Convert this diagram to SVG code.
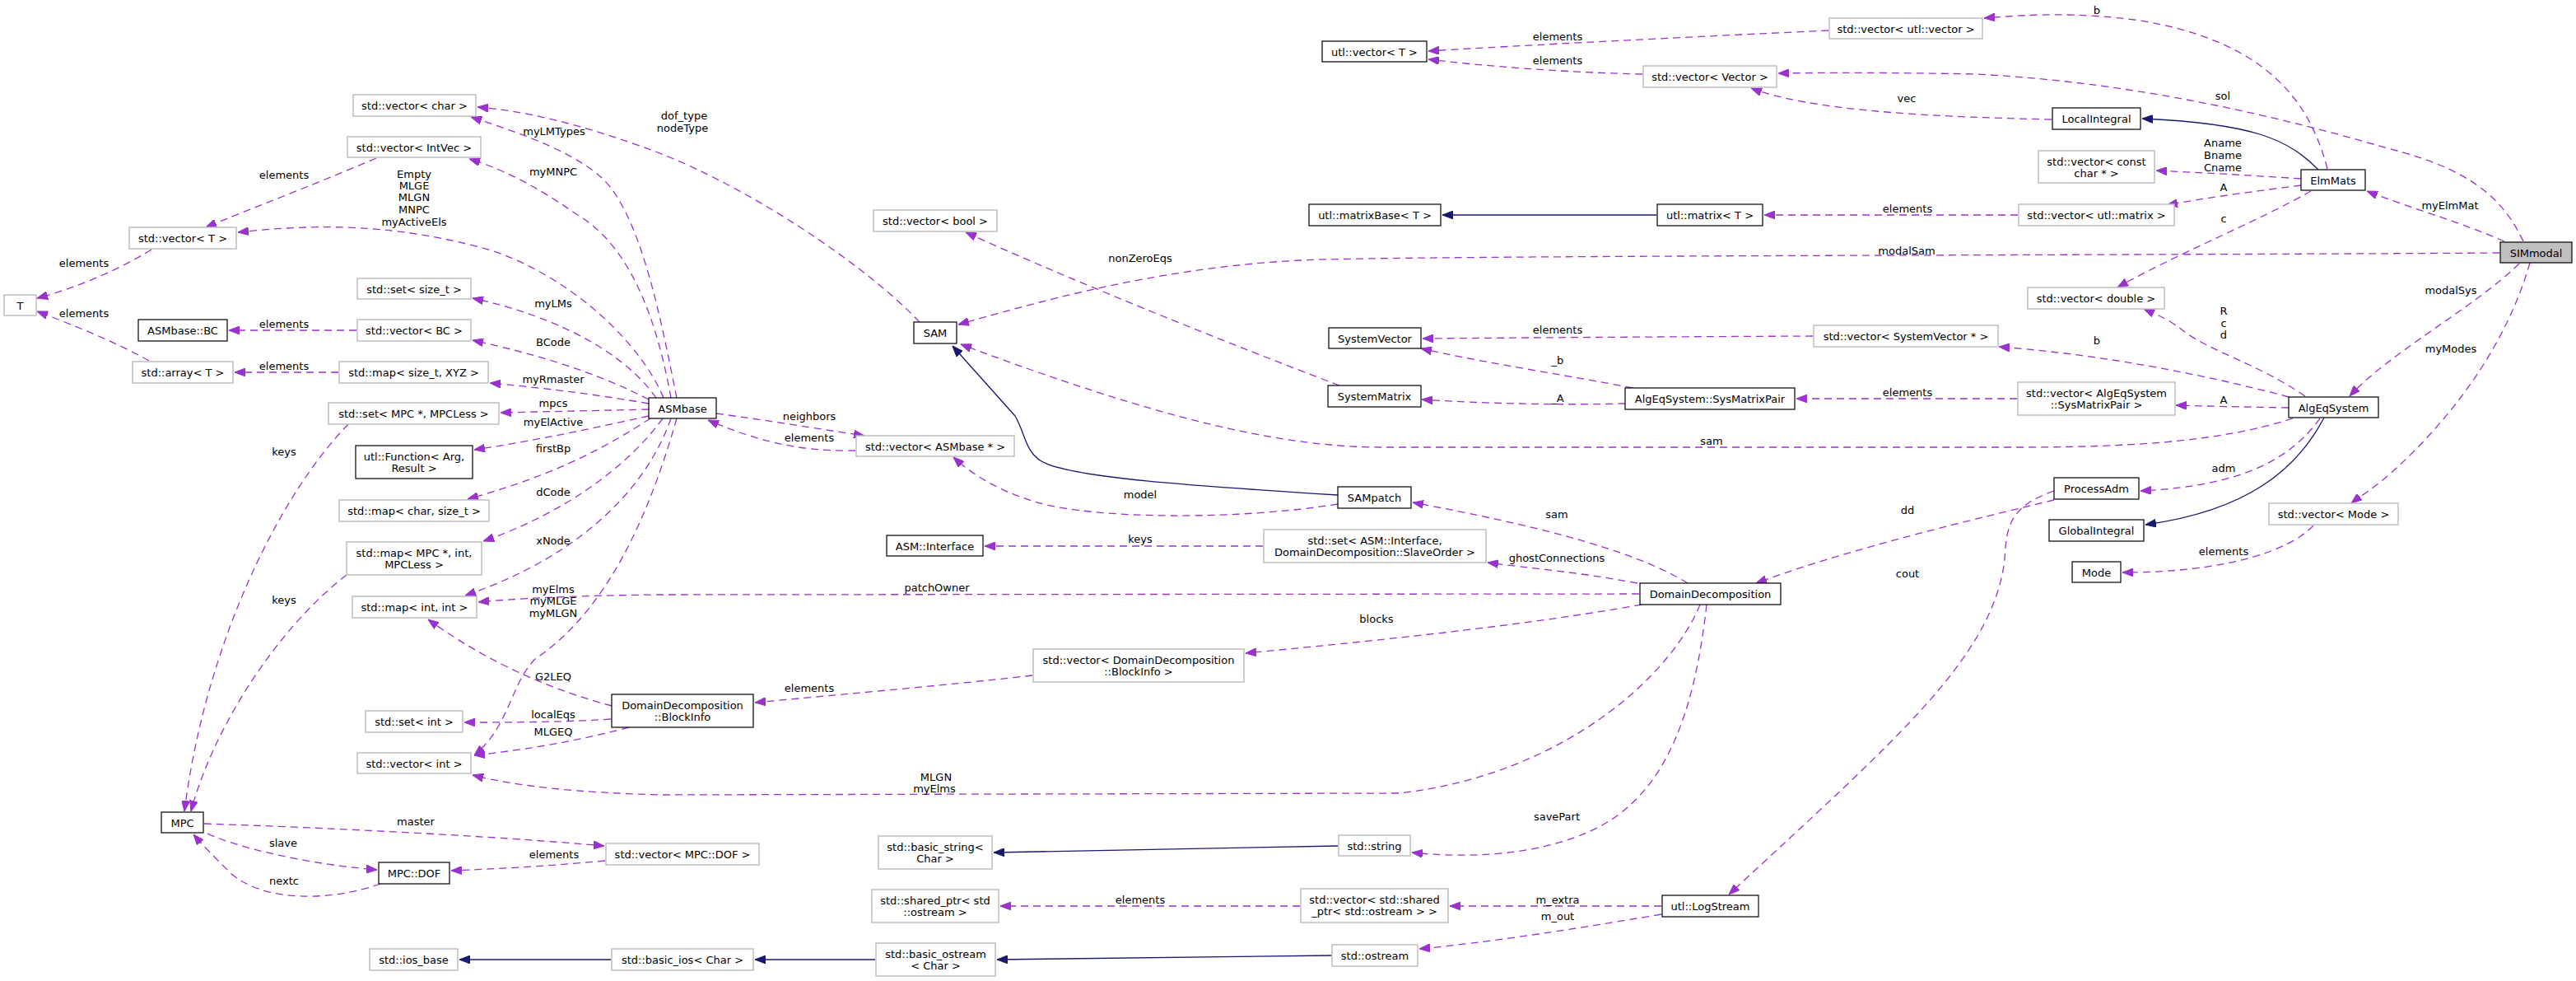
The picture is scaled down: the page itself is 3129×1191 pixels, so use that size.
<svg xmlns="http://www.w3.org/2000/svg" width="3129" height="1191" viewBox="0 0 3129 1191">
<style>
text{font-family:"DejaVu Sans","Liberation Sans",sans-serif;font-size:13px;fill:#000;text-anchor:middle}
.g rect{fill:#fff;stroke:#bfbfbf;stroke-width:1.5}
.b rect{fill:#fff;stroke:#000;stroke-width:1.2}
.c rect{fill:#bfbfbf;stroke:#000;stroke-width:1.2}
.e{fill:none;stroke:#9a32cd;stroke-width:1.3;stroke-dasharray:9 6;marker-end:url(#ap)}
.i{fill:none;stroke:#191970;stroke-width:1.3;marker-end:url(#an)}
</style>
<defs>
<marker id="ap" viewBox="0 0 13 10" refX="13" refY="5" markerWidth="13" markerHeight="10" markerUnits="userSpaceOnUse" orient="auto"><path d="M0,0 L13,5 L0,10 z" fill="#9a32cd" stroke="#9a32cd"/></marker>
<marker id="an" viewBox="0 0 13 10" refX="13" refY="5" markerWidth="13" markerHeight="10" markerUnits="userSpaceOnUse" orient="auto"><path d="M0,0 L13,5 L0,10 z" fill="#191970" stroke="#191970"/></marker>
</defs>
<rect width="3129" height="1191" fill="#fff"/>
<g id="edges">
<path class="e" d="M2221,37 C2050,45 1850,55 1735,62"/>
<path class="e" d="M1995,90 C1900,88 1800,80 1735,72"/>
<path class="e" d="M2827,205 C2805,120 2750,50 2600,25 C2520,14 2460,18 2410,22"/>
<path class="e" d="M3065,293 C3040,240 3000,205 2900,180 C2780,145 2600,100 2400,90 C2300,88 2220,88 2160,89"/>
<path class="e" d="M2492,145 C2350,142 2200,135 2127,107"/>
<path class="i" d="M2816,206 C2780,170 2740,150 2602,144"/>
<path class="e" d="M2795,217 C2720,212 2680,210 2619,207"/>
<path class="e" d="M2795,225 C2740,232 2680,240 2632,249"/>
<path class="e" d="M2807,232 C2740,270 2640,310 2572,349"/>
<path class="e" d="M3042,293 C2990,270 2920,250 2875,232"/>
<path class="e" d="M3036,307 C2600,310 1700,310 1580,316 C1400,325 1250,370 1164,394"/>
<path class="e" d="M2451,261 L2143,261"/>
<path class="i" d="M2012,261 L1752,261"/>
<path class="e" d="M2202,408 C2000,409 1850,410 1728,411"/>
<path class="e" d="M3060,320 C3010,370 2900,430 2854,481"/>
<path class="e" d="M3073,319 C3050,400 3000,480 2930,550 C2890,590 2870,600 2856,611"/>
<path class="e" d="M2800,481 C2740,440 2680,425 2650,400 C2630,385 2615,380 2604,375"/>
<path class="e" d="M2780,482 C2680,455 2550,430 2428,421"/>
<path class="e" d="M2780,495 C2720,494 2680,493 2643,492"/>
<path class="e" d="M2450,484 L2182,484"/>
<path class="e" d="M1983,471 C1900,455 1800,440 1726,423"/>
<path class="e" d="M1974,490 C1900,492 1800,490 1727,485"/>
<path class="e" d="M2785,508 C2700,535 2600,543 2450,543 L1680,543 C1550,543 1400,505 1167,418"/>
<path class="e" d="M1627,468 C1500,420 1300,340 1173,282"/>
<path class="e" d="M1117,391 C1050,320 900,220 780,178 C700,150 640,135 580,130"/>
<path class="e" d="M822,483 C805,400 780,260 730,215 C690,180 620,158 572,142"/>
<path class="e" d="M815,483 C800,400 770,300 700,260 C650,225 610,205 570,193"/>
<path class="e" d="M806,483 C780,420 700,340 600,305 C480,270 380,272 289,282"/>
<path class="e" d="M797,483 C760,430 680,385 574,362"/>
<path class="e" d="M788,485 C720,450 650,430 574,413"/>
<path class="e" d="M788,490 C720,478 650,470 595,465"/>
<path class="e" d="M788,497 L608,501"/>
<path class="e" d="M788,505 C720,520 650,535 576,546"/>
<path class="e" d="M790,508 C740,540 680,575 568,606"/>
<path class="e" d="M805,508 C760,570 680,625 587,657"/>
<path class="e" d="M815,508 C790,580 720,670 565,723"/>
<path class="e" d="M822,508 C790,620 740,740 650,800 C620,830 620,880 576,917"/>
<path class="e" d="M423,515 C340,600 250,780 224,985"/>
<path class="e" d="M421,698 C340,760 260,880 232,985"/>
<path class="e" d="M184,303 C140,330 90,350 45,362"/>
<path class="e" d="M181,438 C140,415 90,395 45,378"/>
<path class="e" d="M457,192 C380,225 300,255 250,276"/>
<path class="e" d="M433,401 L278,401"/>
<path class="e" d="M411,452 L285,452"/>
<path class="e" d="M870,502 C930,510 990,520 1050,529"/>
<path class="e" d="M1039,547 C980,548 930,540 860,510"/>
<path class="e" d="M1625,612 C1500,632 1330,630 1260,610 C1210,595 1180,575 1158,555"/>
<path class="i" d="M1625,601 C1450,590 1300,580 1265,560 C1245,548 1245,525 1233,505 L1157,420"/>
<path class="e" d="M2050,708 C1980,665 1850,635 1716,610"/>
<path class="e" d="M1989,708 C1920,695 1860,690 1807,683"/>
<path class="e" d="M1534,663 L1196,663"/>
<path class="e" d="M1991,721 L800,722 C700,723 620,727 581,731"/>
<path class="e" d="M1994,734 C1850,760 1650,780 1513,793"/>
<path class="e" d="M1254,820 C1150,832 1000,845 917,853"/>
<path class="e" d="M2065,734 C2030,820 1900,940 1700,963 L800,965 C700,962 630,955 574,941"/>
<path class="e" d="M2073,734 C2060,850 2030,960 1940,1005 C1870,1040 1780,1042 1715,1035"/>
<path class="e" d="M2495,607 C2400,630 2250,665 2133,708"/>
<path class="e" d="M2495,596 C2440,615 2437,640 2435,680 C2420,800 2300,900 2100,1086"/>
<path class="e" d="M2818,508 C2780,560 2720,590 2600,596"/>
<path class="i" d="M2823,507 C2790,570 2730,620 2606,637"/>
<path class="e" d="M2810,638 C2780,670 2700,695 2578,695"/>
<path class="e" d="M2018,1100 L1761,1100"/>
<path class="e" d="M2018,1110 C1900,1130 1800,1145 1724,1152"/>
<path class="e" d="M1579,1100 L1215,1100"/>
<path class="i" d="M1625,1027 L1207,1035"/>
<path class="i" d="M1617,1160 L1211,1165"/>
<path class="i" d="M1063,1165 L917,1165"/>
<path class="i" d="M742,1165 L558,1165"/>
<path class="e" d="M248,1000 C400,1005 600,1015 734,1027"/>
<path class="e" d="M252,1012 C290,1030 380,1050 458,1056"/>
<path class="e" d="M462,1073 C400,1095 320,1095 280,1060 C260,1040 245,1025 235,1013"/>
<path class="e" d="M735,1045 C660,1052 600,1055 548,1057"/>
<path class="e" d="M742,873 C680,877 620,877 564,877"/>
<path class="e" d="M764,883 C700,900 640,910 576,917"/>
<path class="e" d="M743,857 C680,840 600,810 520,752"/>
</g>
<g id="labels">
<text x="1892" y="49">elements</text>
<text x="1892" y="78">elements</text>
<text x="2547" y="17">b</text>
<text x="2700" y="121">sol</text>
<text x="2316" y="124">vec</text>
<text x="2700" y="178">Aname</text>
<text x="2700" y="193">Bname</text>
<text x="2700" y="208">Cname</text>
<text x="2701" y="232">A</text>
<text x="2701" y="270">c</text>
<text x="2976" y="254">myElmMat</text>
<text x="2316" y="309">modalSam</text>
<text x="2317" y="258">elements</text>
<text x="1892" y="405">elements</text>
<text x="2977" y="357">modalSys</text>
<text x="2977" y="428">myModes</text>
<text x="2701" y="382">R</text>
<text x="2701" y="397">c</text>
<text x="2701" y="411">d</text>
<text x="2547" y="418">b</text>
<text x="2701" y="490">A</text>
<text x="2317" y="481">elements</text>
<text x="1892" y="442">_b</text>
<text x="1892" y="488">_A</text>
<text x="2079" y="540">sam</text>
<text x="1385" y="318">nonZeroEqs</text>
<text x="831" y="145">dof_type</text>
<text x="829" y="160">nodeType</text>
<text x="673" y="164">myLMTypes</text>
<text x="672" y="213">myMNPC</text>
<text x="503" y="216">Empty</text>
<text x="503" y="230">MLGE</text>
<text x="503" y="244">MLGN</text>
<text x="503" y="259">MNPC</text>
<text x="503" y="274">myActiveEls</text>
<text x="672" y="373">myLMs</text>
<text x="672" y="420">BCode</text>
<text x="672" y="465">myRmaster</text>
<text x="672" y="494">mpcs</text>
<text x="672" y="517">myElActive</text>
<text x="672" y="549">firstBp</text>
<text x="672" y="602">dCode</text>
<text x="672" y="661">xNode</text>
<text x="672" y="720">myElms</text>
<text x="672" y="734">myMLGE</text>
<text x="672" y="749">myMLGN</text>
<text x="345" y="553">keys</text>
<text x="345" y="733">keys</text>
<text x="102" y="324">elements</text>
<text x="102" y="385">elements</text>
<text x="345" y="217">elements</text>
<text x="345" y="398">elements</text>
<text x="345" y="449">elements</text>
<text x="983" y="510">neighbors</text>
<text x="983" y="536">elements</text>
<text x="1385" y="605">model</text>
<text x="1891" y="629">sam</text>
<text x="1891" y="682">ghostConnections</text>
<text x="1385" y="659">keys</text>
<text x="1138" y="718">patchOwner</text>
<text x="1672" y="756">blocks</text>
<text x="983" y="840">elements</text>
<text x="1137" y="948">MLGN</text>
<text x="1135" y="962">myElms</text>
<text x="1891" y="996">savePart</text>
<text x="2317" y="624">dd</text>
<text x="2317" y="701">cout</text>
<text x="2701" y="573">adm</text>
<text x="2701" y="674">elements</text>
<text x="1892" y="1097">m_extra</text>
<text x="1892" y="1117">m_out</text>
<text x="1385" y="1097">elements</text>
<text x="505" y="1002">master</text>
<text x="344" y="1028">slave</text>
<text x="345" y="1074">nextc</text>
<text x="673" y="1042">elements</text>
<text x="672" y="872">localEqs</text>
<text x="672" y="893">MLGEQ</text>
<text x="672" y="826">G2LEQ</text>
</g>
<g id="n_vec_char" class="g"><rect x="429" y="115" width="149" height="26"/><text x="503.5" y="132.5">std::vector&lt; char &gt;</text></g>
<g id="n_vec_intvec" class="g"><rect x="422" y="166" width="162" height="25"/><text x="503" y="183.5">std::vector&lt; IntVec &gt;</text></g>
<g id="n_vec_T" class="g"><rect x="157" y="276" width="130" height="26"/><text x="222" y="293.5">std::vector&lt; T &gt;</text></g>
<g id="n_T" class="g"><rect x="5" y="358" width="39" height="25"/><text x="24.5" y="375.5">T</text></g>
<g id="n_set_size_t" class="g"><rect x="434" y="338" width="138" height="25"/><text x="503" y="355.5">std::set&lt; size_t &gt;</text></g>
<g id="n_vec_BC" class="g"><rect x="434" y="388" width="138" height="26"/><text x="503" y="405.5">std::vector&lt; BC &gt;</text></g>
<g id="n_array_T" class="g"><rect x="161" y="439" width="122" height="26"/><text x="222" y="456.5">std::array&lt; T &gt;</text></g>
<g id="n_map_size_xyz" class="g"><rect x="412" y="439" width="181" height="26"/><text x="502.5" y="456.5">std::map&lt; size_t, XYZ &gt;</text></g>
<g id="n_set_mpc" class="g"><rect x="399" y="489" width="207" height="26"/><text x="502.5" y="506.5">std::set&lt; MPC *, MPCLess &gt;</text></g>
<g id="n_map_char_size" class="g"><rect x="412" y="607" width="182" height="26"/><text x="503" y="624.5">std::map&lt; char, size_t &gt;</text></g>
<g id="n_map_mpc_int" class="g"><rect x="421" y="658" width="164" height="40"/><text x="503" y="676">std::map&lt; MPC *, int,</text><text x="503" y="689.5">MPCLess &gt;</text></g>
<g id="n_map_int_int" class="g"><rect x="428" y="724" width="151" height="26"/><text x="503.5" y="741.5">std::map&lt; int, int &gt;</text></g>
<g id="n_set_int" class="g"><rect x="444" y="863" width="118" height="26"/><text x="503" y="880.5">std::set&lt; int &gt;</text></g>
<g id="n_vec_int" class="g"><rect x="434" y="914" width="138" height="25"/><text x="503" y="931.5">std::vector&lt; int &gt;</text></g>
<g id="n_vec_mpcdof" class="g"><rect x="736" y="1024" width="186" height="26"/><text x="829" y="1041.5">std::vector&lt; MPC::DOF &gt;</text></g>
<g id="n_ios_base" class="g"><rect x="449" y="1152" width="107" height="26"/><text x="502.5" y="1169.5">std::ios_base</text></g>
<g id="n_basic_ios" class="g"><rect x="743" y="1152" width="172" height="26"/><text x="829" y="1169.5">std::basic_ios&lt; Char &gt;</text></g>
<g id="n_basic_string" class="g"><rect x="1067" y="1015" width="138" height="40"/><text x="1136" y="1033">std::basic_string&lt;</text><text x="1136" y="1046.5">Char &gt;</text></g>
<g id="n_shared_ptr" class="g"><rect x="1059" y="1080" width="154" height="40"/><text x="1136" y="1098">std::shared_ptr&lt; std</text><text x="1136" y="1111.5">::ostream &gt;</text></g>
<g id="n_basic_ostream" class="g"><rect x="1064" y="1145" width="145" height="40"/><text x="1136.5" y="1163">std::basic_ostream</text><text x="1136.5" y="1176.5">&lt; Char &gt;</text></g>
<g id="n_vec_bool" class="g"><rect x="1061" y="255" width="150" height="26"/><text x="1136" y="272.5">std::vector&lt; bool &gt;</text></g>
<g id="n_vec_asmbase" class="g"><rect x="1040" y="529" width="192" height="25"/><text x="1136" y="546.5">std::vector&lt; ASMbase * &gt;</text></g>
<g id="n_set_asminterface" class="g"><rect x="1535" y="643" width="270" height="40"/><text x="1670" y="661">std::set&lt; ASM::Interface,</text><text x="1670" y="674.5">DomainDecomposition::SlaveOrder &gt;</text></g>
<g id="n_vec_blockinfo" class="g"><rect x="1255" y="788" width="256" height="40"/><text x="1383" y="806">std::vector&lt; DomainDecomposition</text><text x="1383" y="819.5">::BlockInfo &gt;</text></g>
<g id="n_vec_utlvector" class="g"><rect x="2222" y="22" width="186" height="25"/><text x="2315" y="39.5">std::vector&lt; utl::vector &gt;</text></g>
<g id="n_vec_Vector" class="g"><rect x="1996" y="80" width="162" height="26"/><text x="2077" y="97.5">std::vector&lt; Vector &gt;</text></g>
<g id="n_vec_constchar" class="g"><rect x="2476" y="183" width="141" height="39"/><text x="2546.5" y="201">std::vector&lt; const</text><text x="2546.5" y="214.5">char * &gt;</text></g>
<g id="n_vec_utlmatrix" class="g"><rect x="2452" y="248" width="189" height="26"/><text x="2546.5" y="265.5">std::vector&lt; utl::matrix &gt;</text></g>
<g id="n_vec_sysvec" class="g"><rect x="2203" y="395" width="224" height="26"/><text x="2315" y="412.5">std::vector&lt; SystemVector * &gt;</text></g>
<g id="n_vec_double" class="g"><rect x="2463" y="349" width="166" height="26"/><text x="2546" y="366.5">std::vector&lt; double &gt;</text></g>
<g id="n_vec_sysmatpair" class="g"><rect x="2451" y="464" width="191" height="40"/><text x="2546.5" y="482">std::vector&lt; AlgEqSystem</text><text x="2546.5" y="495.5">::SysMatrixPair &gt;</text></g>
<g id="n_vec_mode" class="g"><rect x="2756" y="611" width="157" height="26"/><text x="2834.5" y="628.5">std::vector&lt; Mode &gt;</text></g>
<g id="n_std_string" class="g"><rect x="1626" y="1014" width="87" height="25"/><text x="1669.5" y="1031.5">std::string</text></g>
<g id="n_vec_sharedptr" class="g"><rect x="1580" y="1079" width="179" height="41"/><text x="1669.5" y="1097">std::vector&lt; std::shared</text><text x="1669.5" y="1110.5">_ptr&lt; std::ostream &gt; &gt;</text></g>
<g id="n_std_ostream" class="g"><rect x="1618" y="1147" width="104" height="26"/><text x="1670" y="1164.5">std::ostream</text></g>
<g id="n_ASMbase_BC" class="b"><rect x="168" y="388" width="108" height="26"/><text x="222" y="405.5">ASMbase::BC</text></g>
<g id="n_utl_Function" class="b"><rect x="432" y="541" width="142" height="40"/><text x="503" y="559">utl::Function&lt; Arg,</text><text x="503" y="572.5">Result &gt;</text></g>
<g id="n_ASMbase" class="b"><rect x="788" y="483" width="82" height="25"/><text x="829" y="500.5">ASMbase</text></g>
<g id="n_SAM" class="b"><rect x="1110" y="391" width="52" height="26"/><text x="1136" y="408.5">SAM</text></g>
<g id="n_ASM_Interface" class="b"><rect x="1077" y="650" width="117" height="25"/><text x="1135.5" y="667.5">ASM::Interface</text></g>
<g id="n_BlockInfo" class="b"><rect x="743" y="843" width="172" height="40"/><text x="829" y="861">DomainDecomposition</text><text x="829" y="874.5">::BlockInfo</text></g>
<g id="n_MPC" class="b"><rect x="196" y="986" width="51" height="25"/><text x="221.5" y="1003.5">MPC</text></g>
<g id="n_MPC_DOF" class="b"><rect x="460" y="1047" width="86" height="26"/><text x="503" y="1064.5">MPC::DOF</text></g>
<g id="n_utl_vector" class="b"><rect x="1606" y="50" width="127" height="25"/><text x="1669.5" y="67.5">utl::vector&lt; T &gt;</text></g>
<g id="n_utl_matrixBase" class="b"><rect x="1590" y="248" width="160" height="26"/><text x="1670" y="265.5">utl::matrixBase&lt; T &gt;</text></g>
<g id="n_utl_matrix" class="b"><rect x="2013" y="248" width="128" height="26"/><text x="2077" y="265.5">utl::matrix&lt; T &gt;</text></g>
<g id="n_SystemVector" class="b"><rect x="1614" y="398" width="112" height="25"/><text x="1670" y="415.5">SystemVector</text></g>
<g id="n_SystemMatrix" class="b"><rect x="1613" y="468" width="113" height="26"/><text x="1669.5" y="485.5">SystemMatrix</text></g>
<g id="n_SysMatrixPair" class="b"><rect x="1974" y="471" width="206" height="26"/><text x="2077" y="488.5">AlgEqSystem::SysMatrixPair</text></g>
<g id="n_SAMpatch" class="b"><rect x="1625" y="591" width="89" height="26"/><text x="1669.5" y="608.5">SAMpatch</text></g>
<g id="n_DomainDecomposition" class="b"><rect x="1992" y="708" width="171" height="26"/><text x="2077.5" y="725.5">DomainDecomposition</text></g>
<g id="n_LocalIntegral" class="b"><rect x="2493" y="131" width="107" height="26"/><text x="2546.5" y="148.5">LocalIntegral</text></g>
<g id="n_ElmMats" class="b"><rect x="2795" y="206" width="78" height="25"/><text x="2834" y="223.5">ElmMats</text></g>
<g id="n_SIMmodal" class="c"><rect x="3037" y="294" width="87" height="25"/><text x="3080.5" y="311.5">SIMmodal</text></g>
<g id="n_AlgEqSystem" class="b"><rect x="2780" y="482" width="109" height="25"/><text x="2834.5" y="499.5">AlgEqSystem</text></g>
<g id="n_ProcessAdm" class="b"><rect x="2495" y="580" width="103" height="26"/><text x="2546.5" y="597.5">ProcessAdm</text></g>
<g id="n_GlobalIntegral" class="b"><rect x="2489" y="631" width="115" height="26"/><text x="2546.5" y="648.5">GlobalIntegral</text></g>
<g id="n_Mode" class="b"><rect x="2517" y="682" width="59" height="25"/><text x="2546.5" y="699.5">Mode</text></g>
<g id="n_LogStream" class="b"><rect x="2019" y="1087" width="117" height="26"/><text x="2077.5" y="1104.5">utl::LogStream</text></g>
</svg>
